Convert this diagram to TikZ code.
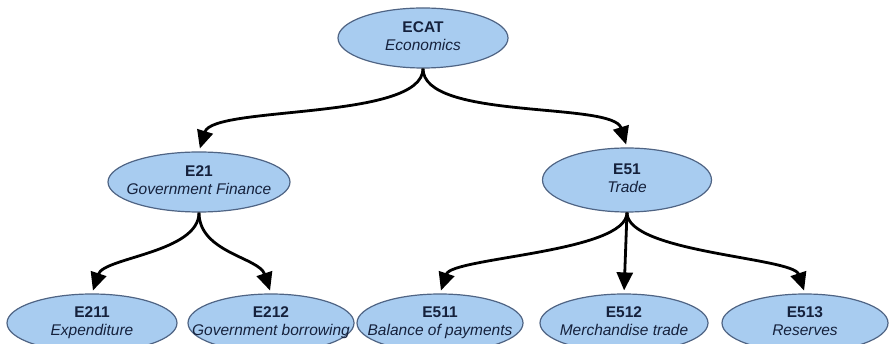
\documentclass[tikz,border=0pt]{standalone}
\usepackage{fontspec}
\setmainfont{Liberation Sans}
\usetikzlibrary{shapes.geometric,arrows.meta}
\definecolor{nodefill}{HTML}{A8CCF0}
\definecolor{nodeline}{HTML}{4F6484}
\definecolor{nodetext}{HTML}{15213C}
\tikzset{
  catnode/.style={ellipse, draw=nodeline, line width=1.2pt, fill=nodefill, inner sep=0pt,
    text=nodetext, font=\fontsize{15.5}{17.5}\selectfont},
  link/.style={line width=2.8pt, draw=black, shorten >=3pt, -{Triangle[length=18pt,width=16pt]}},
}
\newcommand{\cat}[2]{\makebox[0pt]{\begin{tabular}{@{}c@{}}\textbf{#1}\\\textit{#2}\end{tabular}}}
\begin{document}
\begin{tikzpicture}[x=1pt,y=-1pt]
\useasboundingbox (0,0) rectangle (889,344);
\clip (0,0) rectangle (889,344);
\fill[white] (0,0) rectangle (889,344);
\node[catnode, minimum width=170pt, minimum height=60pt] (ecat) at (423,38) {\cat{ECAT}{Economics}};
\node[catnode, minimum width=182pt, minimum height=60pt] (e21) at (199,182) {\cat{E21}{Government Finance}};
\node[catnode, minimum width=169pt, minimum height=64pt] (e51) at (627,180) {\cat{E51}{Trade}};
\node[catnode, minimum width=170pt, minimum height=58pt] (e211) at (92,323) {\cat{E211}{Expenditure}};
\node[catnode, minimum width=166pt, minimum height=58pt] (e212) at (271,323) {\cat{E212}{Government borrowing}};
\node[catnode, minimum width=166pt, minimum height=58pt] (e511) at (440,323) {\cat{E511}{Balance of payments}};
\node[catnode, minimum width=168pt, minimum height=58pt] (e512) at (624,323) {\cat{E512}{Merchandise trade}};
\node[catnode, minimum width=166pt, minimum height=58pt] (e513) at (805,323) {\cat{E513}{Reserves}};
\draw[link] (ecat.south) .. controls +(0,52) and +(14,-46) .. (e21.north);
\draw[link] (ecat.south) .. controls +(0,52) and +(-14,-46) .. (e51.north);
\draw[link] (e21.south) .. controls +(0,40) and +(12,-36) .. (e211.north);
\draw[link] (e21.south) .. controls +(0,40) and +(-12,-36) .. (e212.north);
\draw[link] (e51.south) .. controls +(0,40) and +(12,-36) .. (e511.north);
\draw[link] (e51.south) -- (e512.north);
\draw[link] (e51.south) .. controls +(0,40) and +(-12,-36) .. (e513.north);
\end{tikzpicture}
\end{document}
